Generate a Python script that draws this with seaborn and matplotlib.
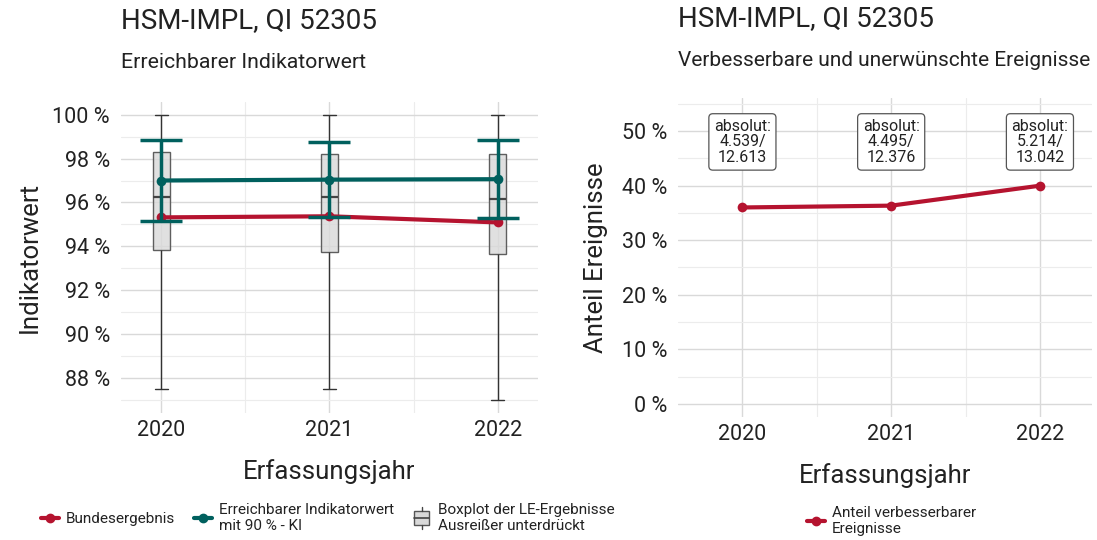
import numpy as np
import pandas as pd
import matplotlib
matplotlib.use("Agg")
import matplotlib.pyplot as plt
import seaborn as sns
from matplotlib.ticker import FuncFormatter, MultipleLocator
from matplotlib.lines import Line2D
from matplotlib.patches import Rectangle
from matplotlib.legend_handler import HandlerBase

# ---------------- data ----------------
years = ["2020", "2021", "2022"]
# box plot of LE results: min, q1, median, q3, max (outliers suppressed)
box_min = [87.5, 87.5, 87.0]
box_q1 = [93.84, 93.76, 93.63]
box_med = [96.23, 96.23, 96.17]
box_q3 = [98.32, 98.20, 98.20]
box_max = [100.0, 100.0, 100.0]
# reachable indicator value with 90 % CI
reach_val = [97.0, 97.04, 97.06]
reach_lo = [95.17, 95.35, 95.29]
reach_hi = [98.83, 98.76, 98.84]
# federal result
bund_val = [95.32, 95.37, 95.09]
# right chart: share of improvable events
events_num = [4539, 4495, 5214]
events_den = [12613, 12376, 13042]
events_lbl_num = ["4.539", "4.495", "5.214"]
events_lbl_den = ["12.613", "12.376", "13.042"]

RED = "#b5132f"
TEAL = "#00605e"
GRID = "#d9d9d9"
GRID_MINOR = "#ececec"
TXT = "#222222"

sns.set_theme(style="white")
plt.rcParams["font.family"] = ["Roboto", "DejaVu Sans"]
plt.rcParams["text.color"] = TXT
plt.rcParams["axes.labelcolor"] = TXT
plt.rcParams["xtick.color"] = TXT
plt.rcParams["ytick.color"] = TXT

fig = plt.figure(figsize=(10.97, 5.40), dpi=100)
axL = fig.add_axes([121 / 1097, 0.235, 417 / 1097, 0.577])
axR = fig.add_axes([678 / 1097, 0.228, 414 / 1097, 0.590])

pct = FuncFormatter(lambda v, p: f"{v:.0f} %")

def style_axes(ax):
    for s in ax.spines.values():
        s.set_visible(False)
    ax.grid(which="major", color=GRID, linewidth=1.0)
    ax.grid(which="minor", color=GRID_MINOR, linewidth=0.8)
    ax.set_axisbelow(True)
    ax.tick_params(axis="both", which="both", length=0, labelsize=15.5)
    ax.tick_params(axis="y", pad=8)
    ax.tick_params(axis="x", pad=5)
    ax.xaxis.set_minor_locator(MultipleLocator(0.5))
    ax.xaxis.set_major_locator(MultipleLocator(1.0))

# ---------------- left chart ----------------
box_df = pd.DataFrame({
    "Jahr": np.repeat(years, 5),
    "Wert": np.column_stack([box_min, box_q1, box_med, box_q3, box_max]).ravel(),
})
sns.boxplot(data=box_df, x="Jahr", y="Wert", ax=axL, whis=np.inf, width=0.10,
            color="#d9d9d9", linewidth=1.0, showcaps=True,
            boxprops=dict(facecolor=(0.85, 0.85, 0.85, 0.8), edgecolor="#5e5e5e"),
            medianprops=dict(color="#444444", linewidth=1.6),
            whiskerprops=dict(color="#333333", linewidth=1.0),
            capprops=dict(color="#333333", linewidth=1.0),
            capwidths=0.08, zorder=2)

xpos = np.arange(len(years))
line_df = pd.DataFrame({"x": xpos, "bund": bund_val, "reach": reach_val})
sns.lineplot(data=line_df, x="x", y="bund", ax=axL, color=RED, linewidth=3,
             marker="o", markersize=7, markeredgewidth=0, zorder=4)
axL.errorbar(xpos, reach_val,
             yerr=[np.array(reach_val) - np.array(reach_lo), np.array(reach_hi) - np.array(reach_val)],
             fmt="none", ecolor=TEAL, elinewidth=2.5, capsize=15, capthick=2.5, zorder=5)
sns.lineplot(data=line_df, x="x", y="reach", ax=axL, color=TEAL, linewidth=3,
             marker="o", markersize=7, markeredgewidth=0, zorder=6)

style_axes(axL)
axL.set_xlim(-0.24, 2.24)
axL.set_ylim(86.4, 100.6)
axL.yaxis.set_major_locator(MultipleLocator(2))
axL.yaxis.set_minor_locator(MultipleLocator(1))
axL.yaxis.set_major_formatter(pct)
axL.set_xticks(xpos)
axL.set_xticklabels(years)
axL.set_xlabel("Erfassungsjahr", fontsize=18.5, labelpad=13)
axL.set_ylabel("Indikatorwert", fontsize=18.5, labelpad=8)

fig.text(121 / 1097, 1 - 21 / 540, "HSM-IMPL, QI 52305", fontsize=20, va="center", ha="left")
fig.text(121 / 1097, 1 - 63 / 540, "Erreichbarer Indikatorwert", fontsize=15.3, va="center", ha="left")

# ---------------- right chart ----------------
share = [100.0 * n / d for n, d in zip(events_num, events_den)]
ev_df = pd.DataFrame({"x": xpos, "share": share})
sns.lineplot(data=ev_df, x="x", y="share", ax=axR, color=RED, linewidth=3,
             marker="o", markersize=7, markeredgewidth=0, zorder=4)
for i in range(len(years)):
    axR.text(xpos[i], 48.0, f"absolut:\n{events_lbl_num[i]}/\n{events_lbl_den[i]}",
             ha="center", va="center", fontsize=11.5, linespacing=1.05, zorder=6,
             bbox=dict(boxstyle="round,pad=0.32,rounding_size=0.25", facecolor="white",
                       edgecolor="#555555", linewidth=0.9))

style_axes(axR)
axR.set_xlim(-0.433, 2.35)
axR.set_ylim(-2.4, 56)
axR.yaxis.set_major_locator(MultipleLocator(10))
axR.yaxis.set_minor_locator(MultipleLocator(5))
axR.yaxis.set_major_formatter(pct)
axR.set_xticks(xpos)
axR.set_xticklabels(years)
axR.set_xlabel("Erfassungsjahr", fontsize=18.5, labelpad=13)
axR.set_ylabel("Anteil Ereignisse", fontsize=18.5, labelpad=10)

fig.text(678 / 1097, 1 - 19 / 540, "HSM-IMPL, QI 52305", fontsize=20, va="center", ha="left")
fig.text(678 / 1097, 1 - 60 / 540, "Verbesserbare und unerwünschte Ereignisse", fontsize=15,
         va="center", ha="left")

# ---------------- legends ----------------
class BoxHandler(HandlerBase):
    def create_artists(self, legend, orig_handle, xdescent, ydescent, width, height, fontsize, trans):
        cx = width / 2 - xdescent
        w = width * 0.85
        h = height * 1.3
        y0 = height / 2 - h / 2 - ydescent
        rect = Rectangle((cx - w / 2, y0), w, h,
                         facecolor=(0.85, 0.85, 0.85), edgecolor="#555555", linewidth=1.0,
                         transform=trans)
        med = Line2D([cx - w / 2, cx + w / 2], [y0 + h / 2] * 2,
                     color="#444444", linewidth=1.2, transform=trans)
        wt = Line2D([cx] * 2, [y0 + h, y0 + h + height * 0.4],
                    color="#444444", linewidth=1.0, transform=trans)
        wb = Line2D([cx] * 2, [y0, y0 - height * 0.4],
                    color="#444444", linewidth=1.0, transform=trans)
        return [rect, med, wt, wb]

box_handle = Rectangle((0, 0), 1, 1)
hL = [Line2D([], [], color=RED, linewidth=3, marker="o", markersize=6),
      Line2D([], [], color=TEAL, linewidth=3, marker="o", markersize=6),
      box_handle]
labL = ["Bundesergebnis", "Erreichbarer Indikatorwert\nmit 90 % - KI",
        "Boxplot der LE-Ergebnisse\nAusreißer unterdrückt"]
fig.legend(hL, labL, loc="center left", bbox_to_anchor=(41 / 1097, 1 - 518 / 540),
           ncol=3, frameon=False, fontsize=11, handlelength=1.2, handletextpad=0.45,
           columnspacing=1.2, labelspacing=0.2, borderpad=0, borderaxespad=0,
           handler_map={box_handle: BoxHandler()})

hR = [Line2D([], [], color=RED, linewidth=3, marker="o", markersize=6)]
fig.legend(hR, ["Anteil verbesserbarer\nEreignisse"], loc="center left",
           bbox_to_anchor=(807 / 1097, 1 - 521 / 540), frameon=False, fontsize=11,
           handlelength=1.2, handletextpad=0.45, labelspacing=0.2, borderpad=0, borderaxespad=0)

fig.savefig("out.png", dpi=100, facecolor="white")
